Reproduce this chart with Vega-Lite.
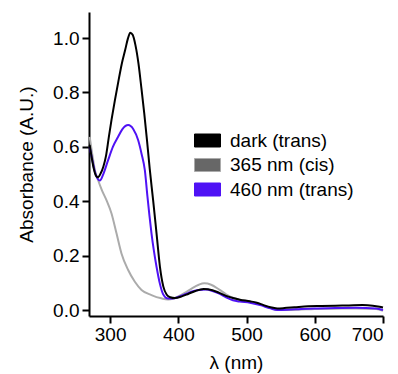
{
  "$schema": "https://vega.github.io/schema/vega-lite/v6.json",
  "width": 294,
  "height": 304,
  "autosize": {"type": "none"},
  "padding": {"left": 89, "top": 12, "right": 15, "bottom": 58},
  "background": "white",
  "config": {
    "view": {"stroke": null},
    "font": "Liberation Sans",
    "axis": {
      "grid": false,
      "domainColor": "black",
      "domainWidth": 2,
      "tickColor": "black",
      "tickWidth": 2,
      "tickSize": 7,
      "labelFontSize": 19,
      "labelColor": "black",
      "labelFont": "Liberation Sans",
      "titleFont": "Liberation Sans",
      "titleFontSize": 19,
      "titleFontWeight": "normal",
      "titleColor": "black"
    }
  },
  "data": {
    "values": [
      {"s": "365 nm (cis)", "x": 270, "y": 0.637},
      {"s": "365 nm (cis)", "x": 274, "y": 0.57},
      {"s": "365 nm (cis)", "x": 278, "y": 0.51},
      {"s": "365 nm (cis)", "x": 282, "y": 0.48},
      {"s": "365 nm (cis)", "x": 288, "y": 0.44},
      {"s": "365 nm (cis)", "x": 294.6, "y": 0.404},
      {"s": "365 nm (cis)", "x": 302, "y": 0.355},
      {"s": "365 nm (cis)", "x": 309.3, "y": 0.282},
      {"s": "365 nm (cis)", "x": 316.6, "y": 0.208},
      {"s": "365 nm (cis)", "x": 326.4, "y": 0.147},
      {"s": "365 nm (cis)", "x": 336.2, "y": 0.104},
      {"s": "365 nm (cis)", "x": 346, "y": 0.074},
      {"s": "365 nm (cis)", "x": 360.6, "y": 0.055},
      {"s": "365 nm (cis)", "x": 375, "y": 0.043},
      {"s": "365 nm (cis)", "x": 385, "y": 0.039},
      {"s": "365 nm (cis)", "x": 392, "y": 0.041},
      {"s": "365 nm (cis)", "x": 400, "y": 0.05},
      {"s": "365 nm (cis)", "x": 410, "y": 0.064},
      {"s": "365 nm (cis)", "x": 420, "y": 0.08},
      {"s": "365 nm (cis)", "x": 430, "y": 0.093},
      {"s": "365 nm (cis)", "x": 438, "y": 0.098},
      {"s": "365 nm (cis)", "x": 448, "y": 0.093},
      {"s": "365 nm (cis)", "x": 460, "y": 0.075},
      {"s": "365 nm (cis)", "x": 470, "y": 0.058},
      {"s": "365 nm (cis)", "x": 480, "y": 0.045},
      {"s": "365 nm (cis)", "x": 490, "y": 0.038},
      {"s": "365 nm (cis)", "x": 505, "y": 0.03},
      {"s": "365 nm (cis)", "x": 520, "y": 0.02},
      {"s": "365 nm (cis)", "x": 535, "y": 0.008},
      {"s": "365 nm (cis)", "x": 545, "y": 0.0},
      {"s": "365 nm (cis)", "x": 560, "y": 0.0},
      {"s": "365 nm (cis)", "x": 580, "y": 0.002},
      {"s": "365 nm (cis)", "x": 600, "y": 0.004},
      {"s": "365 nm (cis)", "x": 630, "y": 0.005},
      {"s": "365 nm (cis)", "x": 660, "y": 0.006},
      {"s": "365 nm (cis)", "x": 690, "y": 0.004},
      {"s": "365 nm (cis)", "x": 700, "y": -0.003},

      {"s": "460 nm (trans)", "x": 270, "y": 0.6},
      {"s": "460 nm (trans)", "x": 274, "y": 0.55},
      {"s": "460 nm (trans)", "x": 278, "y": 0.505},
      {"s": "460 nm (trans)", "x": 282, "y": 0.482},
      {"s": "460 nm (trans)", "x": 285, "y": 0.476},
      {"s": "460 nm (trans)", "x": 290, "y": 0.5},
      {"s": "460 nm (trans)", "x": 297, "y": 0.551},
      {"s": "460 nm (trans)", "x": 304, "y": 0.6},
      {"s": "460 nm (trans)", "x": 311.7, "y": 0.637},
      {"s": "460 nm (trans)", "x": 318, "y": 0.665},
      {"s": "460 nm (trans)", "x": 326.4, "y": 0.68},
      {"s": "460 nm (trans)", "x": 334, "y": 0.665},
      {"s": "460 nm (trans)", "x": 341, "y": 0.625},
      {"s": "460 nm (trans)", "x": 346, "y": 0.575},
      {"s": "460 nm (trans)", "x": 350.8, "y": 0.515},
      {"s": "460 nm (trans)", "x": 354.7, "y": 0.417},
      {"s": "460 nm (trans)", "x": 357.5, "y": 0.35},
      {"s": "460 nm (trans)", "x": 360.6, "y": 0.282},
      {"s": "460 nm (trans)", "x": 364, "y": 0.22},
      {"s": "460 nm (trans)", "x": 368, "y": 0.159},
      {"s": "460 nm (trans)", "x": 372.8, "y": 0.098},
      {"s": "460 nm (trans)", "x": 377.7, "y": 0.058},
      {"s": "460 nm (trans)", "x": 385, "y": 0.042},
      {"s": "460 nm (trans)", "x": 392, "y": 0.042},
      {"s": "460 nm (trans)", "x": 400, "y": 0.048},
      {"s": "460 nm (trans)", "x": 410, "y": 0.058},
      {"s": "460 nm (trans)", "x": 420, "y": 0.068},
      {"s": "460 nm (trans)", "x": 430, "y": 0.074},
      {"s": "460 nm (trans)", "x": 440, "y": 0.075},
      {"s": "460 nm (trans)", "x": 450, "y": 0.07},
      {"s": "460 nm (trans)", "x": 460, "y": 0.06},
      {"s": "460 nm (trans)", "x": 470, "y": 0.047},
      {"s": "460 nm (trans)", "x": 480, "y": 0.036},
      {"s": "460 nm (trans)", "x": 490, "y": 0.031},
      {"s": "460 nm (trans)", "x": 505, "y": 0.027},
      {"s": "460 nm (trans)", "x": 520, "y": 0.018},
      {"s": "460 nm (trans)", "x": 535, "y": 0.006},
      {"s": "460 nm (trans)", "x": 545, "y": 0.0},
      {"s": "460 nm (trans)", "x": 560, "y": 0.001},
      {"s": "460 nm (trans)", "x": 580, "y": 0.004},
      {"s": "460 nm (trans)", "x": 600, "y": 0.006},
      {"s": "460 nm (trans)", "x": 630, "y": 0.007},
      {"s": "460 nm (trans)", "x": 660, "y": 0.008},
      {"s": "460 nm (trans)", "x": 690, "y": 0.006},
      {"s": "460 nm (trans)", "x": 700, "y": 0.0},

      {"s": "dark (trans)", "x": 270, "y": 0.607},
      {"s": "dark (trans)", "x": 273, "y": 0.56},
      {"s": "dark (trans)", "x": 276, "y": 0.52},
      {"s": "dark (trans)", "x": 279, "y": 0.495},
      {"s": "dark (trans)", "x": 282, "y": 0.488},
      {"s": "dark (trans)", "x": 286, "y": 0.502},
      {"s": "dark (trans)", "x": 290, "y": 0.527},
      {"s": "dark (trans)", "x": 294, "y": 0.568},
      {"s": "dark (trans)", "x": 298, "y": 0.635},
      {"s": "dark (trans)", "x": 302, "y": 0.699},
      {"s": "dark (trans)", "x": 307, "y": 0.772},
      {"s": "dark (trans)", "x": 312, "y": 0.84},
      {"s": "dark (trans)", "x": 317, "y": 0.905},
      {"s": "dark (trans)", "x": 322, "y": 0.956},
      {"s": "dark (trans)", "x": 326, "y": 0.998},
      {"s": "dark (trans)", "x": 329.5, "y": 1.02},
      {"s": "dark (trans)", "x": 333, "y": 1.012},
      {"s": "dark (trans)", "x": 337, "y": 0.975},
      {"s": "dark (trans)", "x": 341.5, "y": 0.907},
      {"s": "dark (trans)", "x": 346, "y": 0.812},
      {"s": "dark (trans)", "x": 350, "y": 0.723},
      {"s": "dark (trans)", "x": 354, "y": 0.625},
      {"s": "dark (trans)", "x": 358, "y": 0.52},
      {"s": "dark (trans)", "x": 363, "y": 0.404},
      {"s": "dark (trans)", "x": 368, "y": 0.282},
      {"s": "dark (trans)", "x": 373, "y": 0.159},
      {"s": "dark (trans)", "x": 378, "y": 0.086},
      {"s": "dark (trans)", "x": 383, "y": 0.056},
      {"s": "dark (trans)", "x": 388, "y": 0.047},
      {"s": "dark (trans)", "x": 395, "y": 0.044},
      {"s": "dark (trans)", "x": 405, "y": 0.05},
      {"s": "dark (trans)", "x": 415, "y": 0.06},
      {"s": "dark (trans)", "x": 425, "y": 0.07},
      {"s": "dark (trans)", "x": 437, "y": 0.077},
      {"s": "dark (trans)", "x": 450, "y": 0.073},
      {"s": "dark (trans)", "x": 460, "y": 0.063},
      {"s": "dark (trans)", "x": 470, "y": 0.052},
      {"s": "dark (trans)", "x": 480, "y": 0.044},
      {"s": "dark (trans)", "x": 490, "y": 0.038},
      {"s": "dark (trans)", "x": 505, "y": 0.032},
      {"s": "dark (trans)", "x": 515, "y": 0.027},
      {"s": "dark (trans)", "x": 525, "y": 0.018},
      {"s": "dark (trans)", "x": 535, "y": 0.01},
      {"s": "dark (trans)", "x": 545, "y": 0.006},
      {"s": "dark (trans)", "x": 555, "y": 0.007},
      {"s": "dark (trans)", "x": 570, "y": 0.01},
      {"s": "dark (trans)", "x": 590, "y": 0.014},
      {"s": "dark (trans)", "x": 610, "y": 0.015},
      {"s": "dark (trans)", "x": 630, "y": 0.016},
      {"s": "dark (trans)", "x": 650, "y": 0.017},
      {"s": "dark (trans)", "x": 670, "y": 0.018},
      {"s": "dark (trans)", "x": 685, "y": 0.016},
      {"s": "dark (trans)", "x": 695, "y": 0.012},
      {"s": "dark (trans)", "x": 700, "y": 0.009}
    ]
  },
  "mark": {"type": "line", "interpolate": "monotone", "strokeWidth": 2},
  "encoding": {
    "x": {
      "field": "x",
      "type": "quantitative",
      "scale": {"domain": [269, 700], "nice": false, "zero": false},
      "axis": {"title": "λ (nm)", "values": [300, 400, 500, 600, 700], "labelPadding": 2, "titlePadding": 9}
    },
    "y": {
      "field": "y",
      "type": "quantitative",
      "scale": {"domain": [-0.022, 1.096], "nice": false, "zero": false},
      "axis": {"title": "Absorbance (A.U.)", "values": [0, 0.2, 0.4, 0.6, 0.8, 1.0], "format": ".1f", "labelPadding": 3, "titlePadding": 16}
    },
    "color": {
      "field": "s",
      "type": "nominal",
      "scale": {
        "domain": ["dark (trans)", "365 nm (cis)", "460 nm (trans)"],
        "range": ["#000000", "#ababab", "#4f12f5"]
      },
      "legend": {
        "orient": "none",
        "legendX": 109,
        "legendY": 119,
        "title": null,
        "padding": 0,
        "symbolType": "M-2,-1H2V1H-2Z",
        "symbolSize": 169,
        "symbolStrokeWidth": 1,
        "labelFontSize": 19,
        "labelColor": "black",
        "labelFont": "Liberation Sans",
        "labelOffset": 13,
        "rowPadding": 4.5,
        "encode": {
          "symbols": {
            "update": {
              "fill": {"signal": "datum.value === '365 nm (cis)' ? '#676767' : scale('color', datum.value)"},
              "stroke": {"value": "#222222"},
              "opacity": {"value": 1},
              "fillOpacity": {"value": 1}
            }
          }
        }
      }
    }
  }
}
